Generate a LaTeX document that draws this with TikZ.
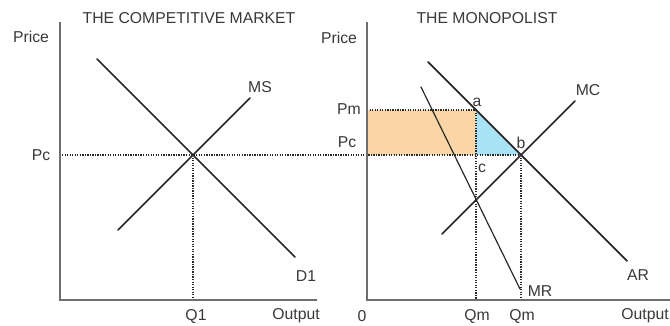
\documentclass[tikz,border=0pt]{standalone}
\usepackage{fontspec}
\setmainfont{Liberation Sans}
\usetikzlibrary{calc}
\definecolor{axisgray}{RGB}{110,110,110}
\definecolor{curveink}{RGB}{40,40,40}
\definecolor{pmorange}{RGB}{250,214,166}
\definecolor{dwlblue}{RGB}{168,226,246}

\begin{document}
\begin{tikzpicture}[x=0.025cm,y=-0.025cm,line cap=round,
  axis/.style={line width=1.6pt,axisgray,line cap=butt},
  curve/.style={line width=1.25pt,curveink},
  guide/.style={line width=1.3pt,curveink,dash pattern=on 0.9pt off 0.9pt,line cap=butt},
  lab/.style={font=\fontsize{11.2}{13}\selectfont,text=black!78,inner sep=0pt}]
  \useasboundingbox (0,0) rectangle (670,326);
  % the competitive market (pixel coordinates, y down)
  \coordinate (O1) at (60,300); \coordinate (Y1) at (60,22); \coordinate (X1) at (317,300);
  \coordinate (E1) at (193,155); \coordinate (PcL) at (62,155); \coordinate (Q1) at (193,300);
  \coordinate (D1a) at (97,59); \coordinate (D1b) at (295,257);
  \coordinate (MSa) at (118,230); \coordinate (MSb) at (250,98);
  % the monopolist
  \coordinate (O2) at (367,300); \coordinate (Y2) at (367,22); \coordinate (X2) at (670,300);
  \coordinate (a) at (476,110); \coordinate (b) at (521,155); \coordinate (c) at (476,155);
  \coordinate (Pm) at (367,110); \coordinate (Qma) at (476,300); \coordinate (Qmb) at (521,300);
  \coordinate (ARa) at (428,62); \coordinate (ARb) at (627,261);
  \coordinate (MCa) at (442,234); \coordinate (MCb) at (575,101);
  \coordinate (MRa) at (421,87); \coordinate (MRb) at (520,289);
  % shaded areas
  \fill[pmorange] (Pm) rectangle (c);
  \fill[dwlblue] (a) -- (c) -- (b) -- cycle;
  % dotted guides
  \draw[guide] (PcL) -- (b);
  \draw[guide] (Pm) -- (a);
  \draw[guide] (E1) -- (Q1);
  \draw[guide] (a) -- (Qma);
  \draw[guide,line width=0.9pt] (b) -- (Qmb);
  % curves
  \draw[curve] (D1a) -- (D1b);
  \draw[curve] (MSa) -- (MSb);
  \draw[curve] (ARa) -- (ARb);
  \draw[curve] (MCa) -- (MCb);
  \draw[curve,line width=0.85pt] (MRa) -- (MRb);
  % axes
  \draw[axis] (Y1) -- (O1) -- (X1);
  \draw[axis] (Y2) -- (O2) -- (X2);
  % labels
  \node[lab] (tcomp) at (189,18) {THE COMPETITIVE MARKET};
  \node[lab] (tmono) at (487,18) {THE MONOPOLIST};
  \node[lab] (price1) at (31,37) {Price};
  \node[lab] (price2) at (339,38) {Price};
  \node[lab] (pc1) at (41,155) {Pc};
  \node[lab] (pm) at (349,109) {Pm};
  \node[lab] (pc2) at (347,142) {Pc};
  \node[lab] (ms) at (260,87) {MS};
  \node[lab] (d1) at (306,276) {D1};
  \node[lab] (mc) at (588,90) {MC};
  \node[lab] (ar) at (638,275) {AR};
  \node[lab] (mr) at (540,291) {MR};
  \node[lab] (la) at (477,102) {a};
  \node[lab] (lb) at (521,143) {b};
  \node[lab] (lc) at (482,168) {c};
  \foreach \n/\x/\t in {q1/196/Q1,out1/296/Output,zero/362/0,qma/477/Qm,qmb/522/Qm}
    \node[lab] (\n) at (\x,316) {\t};
  \node[lab,anchor=east] (out2) at (669,316) {Output};
\end{tikzpicture}
\end{document}
